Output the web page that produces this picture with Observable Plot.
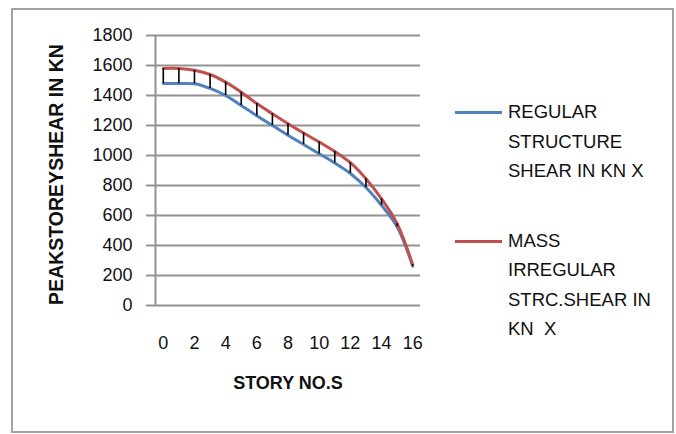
<!DOCTYPE html>
<html>
<head>
<meta charset="utf-8">
<script src="https://cdn.jsdelivr.net/npm/d3@7"></script>
<script src="https://cdn.jsdelivr.net/npm/@observablehq/plot@0.6"></script>
<style>
  html, body { margin: 0; padding: 0; background: #fff; }
  #wrap { position: relative; width: 676px; height: 434px; overflow: hidden; font-family: "Liberation Sans", Arial, sans-serif; }
  #chart { position: absolute; left: 0; top: 0; }
  #border { position: absolute; left: 11px; top: 8px; width: 663px; height: 425px; box-sizing: border-box; border: 2px solid #a3a3a3; pointer-events: none; }
  .leg { position: absolute; left: 508px; font-size: 18.5px; line-height: 29.5px; color: #111; white-space: pre; }
  .sw { position: absolute; left: 455px; width: 47px; height: 3px; }
</style>
</head>
<body>
<div id="wrap">
  <div id="chart"></div>
  <div id="legend"></div>
  <div id="border"></div>
</div>
<script>
// ---- data ----
const stories = [0, 1, 2, 3, 4, 5, 6, 7, 8, 9, 10, 11, 12, 13, 14, 15, 16];
const regularShear = [1480, 1480, 1478, 1447, 1400, 1333, 1265, 1200, 1135, 1073, 1012, 950, 880, 787, 668, 525, 262];
const massIrregularShear = [1580, 1580, 1568, 1540, 1489, 1422, 1346, 1278, 1212, 1150, 1090, 1027, 952, 845, 711, 545, 272];
const yTicks = [0, 200, 400, 600, 800, 1000, 1200, 1400, 1600, 1800];
const xTicks = [0, 2, 4, 6, 8, 10, 12, 14, 16];
const seriesNames = ["REGULAR\nSTRUCTURE\nSHEAR IN KN X", "MASS\nIRREGULAR\nSTRC.SHEAR IN\nKN  X"];
const seriesColors = ["#4F81BD", "#C0504D"];
const xTitle = "STORY NO.S";
const yTitle = "PEAKSTOREYSHEAR IN KN";

const rows = stories.map((s, i) => ({story: s, regular: regularShear[i], mass: massIrregularShear[i]}));

const grid = "#929292";

const plot = Plot.plot({
  width: 676,
  height: 434,
  marginTop: 35,
  marginBottom: 129,
  marginLeft: 155,
  marginRight: 256,
  style: {fontFamily: "Liberation Sans, Arial, sans-serif", fontSize: "18px", color: "#111", background: "transparent"},
  x: {domain: [-0.5, 16.5]},
  y: {domain: [0, 1800]},
  marks: [
    Plot.ruleY(yTicks, {stroke: grid, strokeWidth: 2}),
    Plot.axisY(yTicks, {tickSize: 9, text: null, stroke: grid, strokeWidth: 2, label: null}),
    Plot.axisY(yTicks, {tickSize: 0, tickPadding: 23, label: null, fill: "#111", tickFormat: d => String(d)}),
    Plot.ruleX([-0.5], {y1: 0, y2: 1800, stroke: grid, strokeWidth: 2}),
    Plot.axisX(xTicks, {tickSize: 0, tickPadding: 31, label: null, fill: "#111", tickFormat: d => String(d)}),
    Plot.line(rows, {x: "story", y: "regular", stroke: seriesColors[0], strokeWidth: 3, curve: "catmull-rom"}),
    Plot.line(rows, {x: "story", y: "mass", stroke: seriesColors[1], strokeWidth: 3, curve: "catmull-rom"}),
    Plot.ruleX(rows, {x: "story", y1: "regular", y2: "mass", stroke: "#000", strokeWidth: 1.6}),
    Plot.text([xTitle], {frameAnchor: "bottom", dy: 83, fontWeight: "bold", fontSize: 18, fill: "#111"}),
    Plot.text([yTitle], {frameAnchor: "left", textAnchor: "middle", rotate: -90, dx: -99, dy: 4, fontWeight: "bold", fontSize: 19.5, fill: "#111"})
  ]
});
document.getElementById("chart").appendChild(plot);

// legend (HTML, outside the SVG drawing)
const legend = document.getElementById("legend");
const legTops = [97, 225.5];
const swY = [112, 241];
seriesNames.forEach((name, i) => {
  const sw = document.createElement("div");
  sw.className = "sw";
  sw.style.top = (swY[i] - 1.5) + "px";
  sw.style.background = seriesColors[i];
  legend.appendChild(sw);
  const t = document.createElement("div");
  t.className = "leg";
  t.style.top = legTops[i] + "px";
  t.textContent = name;
  legend.appendChild(t);
});
</script>
</body>
</html>
